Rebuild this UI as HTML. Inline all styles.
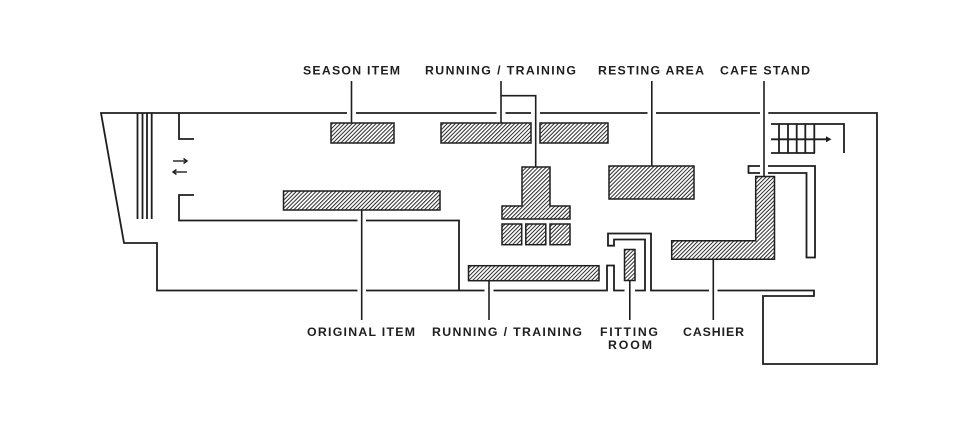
<!DOCTYPE html>
<html>
<head>
<meta charset="utf-8">
<style>
  html,body{margin:0;padding:0;background:#fff;}
  svg{display:block;}
  text{font-family:"Liberation Sans",sans-serif;font-weight:bold;font-size:12.3px;fill:#1e1e1e;}
</style>
</head>
<body>
<svg width="980" height="430" viewBox="0 0 980 430" xmlns="http://www.w3.org/2000/svg">
  <defs>
    <pattern id="h" patternUnits="userSpaceOnUse" width="2.8" height="2.8" patternTransform="rotate(45)">
      <line x1="0.5" y1="0" x2="0.5" y2="2.8" stroke="#2a2a2a" stroke-width="1"/>
    </pattern>
  </defs>
  <rect width="980" height="430" fill="#fff"/>

  <g fill="none" stroke="#1e1e1e" stroke-width="1.8" stroke-linejoin="miter">
    <!-- outer walls -->
    <path d="M101,113 L877,113 L877,364 L763,364 L763,296 L814,296 L814,290.5 L651,290.5 L651,233.5 L608,233.5 L608,245.7 L614,245.7 L614,239.5 L645,239.5 L645,290.5 L614,290.5 L614,265.5 L607,265.5 L607,290.5 L157,290.5 L157,243 L124,243 Z"/>
    <!-- bracket top -->
    <path d="M179,113 L179,139 L194,139"/>
    <!-- bracket bottom / corridor -->
    <path d="M194,195 L179,195 L179,220.5 L459,220.5 L459,290.5"/>
    <!-- escalator lines -->
    <line x1="137.5" y1="113" x2="137.5" y2="219"/>
    <line x1="142.5" y1="113" x2="142.5" y2="219"/>
    <line x1="147" y1="113" x2="147" y2="219"/>
    <line x1="151.7" y1="113" x2="151.7" y2="219"/>
    <!-- cafe hook wall -->
    <path d="M760,166 L748.5,166 L748.5,173 L760,173"/>
    <path d="M768,166 L815,166 L815,257.5 L806.5,257.5 L806.5,173 L768,173"/>
    <!-- stairs -->
    <path d="M771,124 L844,124 L844,153"/>
    <line x1="771" y1="153" x2="815" y2="153"/>
    <line x1="771" y1="139.3" x2="828" y2="139.3"/>
    <line x1="779" y1="124" x2="779" y2="153"/>
    <line x1="788" y1="124" x2="788" y2="153"/>
    <line x1="796.7" y1="124" x2="796.7" y2="153"/>
    <line x1="805.3" y1="124" x2="805.3" y2="153"/>
    <line x1="814.3" y1="124" x2="814.3" y2="153"/>
  </g>
  <polygon points="826,136.3 831.5,139.3 826,142.3" fill="#1e1e1e"/>

  <!-- entrance arrows -->
  <g stroke="#1e1e1e" stroke-width="1.4" fill="none">
    <line x1="173" y1="161" x2="187" y2="161"/>
    <polyline points="183.5,158.5 187,161 183.5,163.5"/>
    <line x1="173" y1="172" x2="187" y2="172"/>
    <polyline points="176.5,169.5 173,172 176.5,174.5"/>
  </g>

  <!-- wall gaps -->
  <g fill="#fff">
    <rect x="347" y="110" width="9" height="6"/>
    <rect x="496.5" y="110" width="9" height="6"/>
    <rect x="531" y="110" width="9" height="6"/>
    <rect x="647.5" y="110" width="8.5" height="6"/>
    <rect x="760" y="110" width="8.3" height="6"/>
    <rect x="357.5" y="217.5" width="8.5" height="6"/>
    <rect x="357.5" y="287.5" width="8.5" height="6"/>
    <rect x="484.5" y="287.5" width="9" height="6"/>
    <rect x="624.5" y="287.5" width="10.5" height="6"/>
    <rect x="709" y="287.5" width="8.5" height="6"/>
  </g>

  <!-- hatched fixtures -->
  <g fill="url(#h)" stroke="#1e1e1e" stroke-width="1.5">
    <rect x="331" y="123" width="63" height="20"/>
    <rect x="441" y="123" width="90" height="20"/>
    <rect x="540" y="123" width="68" height="20"/>
    <rect x="609" y="166" width="85" height="33"/>
    <rect x="283.5" y="191" width="156.5" height="19"/>
    <polygon points="522,167 550,167 550,206 570,206 570,219 502,219 502,206 522,206"/>
    <rect x="502" y="224" width="19.7" height="20.7"/>
    <rect x="525.8" y="224" width="20" height="20.7"/>
    <rect x="550" y="224" width="20" height="20.7"/>
    <rect x="468.5" y="265.7" width="130.5" height="15"/>
    <rect x="624.5" y="249.5" width="10.5" height="31"/>
    <polygon points="755.7,176.5 774.5,176.5 774.5,259.3 671.7,259.3 671.7,240.7 755.7,240.7"/>
  </g>

  <!-- leaders -->
  <g stroke="#1e1e1e" stroke-width="1.6" fill="none">
    <line x1="351.5" y1="81" x2="351.5" y2="123"/>
    <line x1="501" y1="81" x2="501" y2="123"/>
    <path d="M501,95.7 L535.7,95.7 L535.7,167"/>
    <line x1="651.8" y1="81" x2="651.8" y2="166"/>
    <line x1="764" y1="81" x2="764" y2="176.5"/>
    <line x1="361.7" y1="210" x2="361.7" y2="320"/>
    <line x1="489" y1="280.7" x2="489" y2="320"/>
    <line x1="629.8" y1="280.5" x2="629.8" y2="320"/>
    <line x1="713.3" y1="259.3" x2="713.3" y2="320"/>
  </g>

  <!-- labels -->
  <text x="303" y="74.5" textLength="97" lengthAdjust="spacing">SEASON ITEM</text>
  <text x="425" y="74.5" textLength="151" lengthAdjust="spacing">RUNNING / TRAINING</text>
  <text x="598" y="74.5" textLength="106" lengthAdjust="spacing">RESTING AREA</text>
  <text x="720" y="74.5" textLength="90" lengthAdjust="spacing">CAFE STAND</text>

  <text x="307" y="336" textLength="108" lengthAdjust="spacing">ORIGINAL ITEM</text>
  <text x="432" y="336" textLength="150" lengthAdjust="spacing">RUNNING / TRAINING</text>
  <text x="600" y="336" textLength="58" lengthAdjust="spacing">FITTING</text>
  <text x="608" y="349" textLength="44" lengthAdjust="spacing">ROOM</text>
  <text x="683" y="336" textLength="61" lengthAdjust="spacing">CASHIER</text>
</svg>
</body>
</html>
